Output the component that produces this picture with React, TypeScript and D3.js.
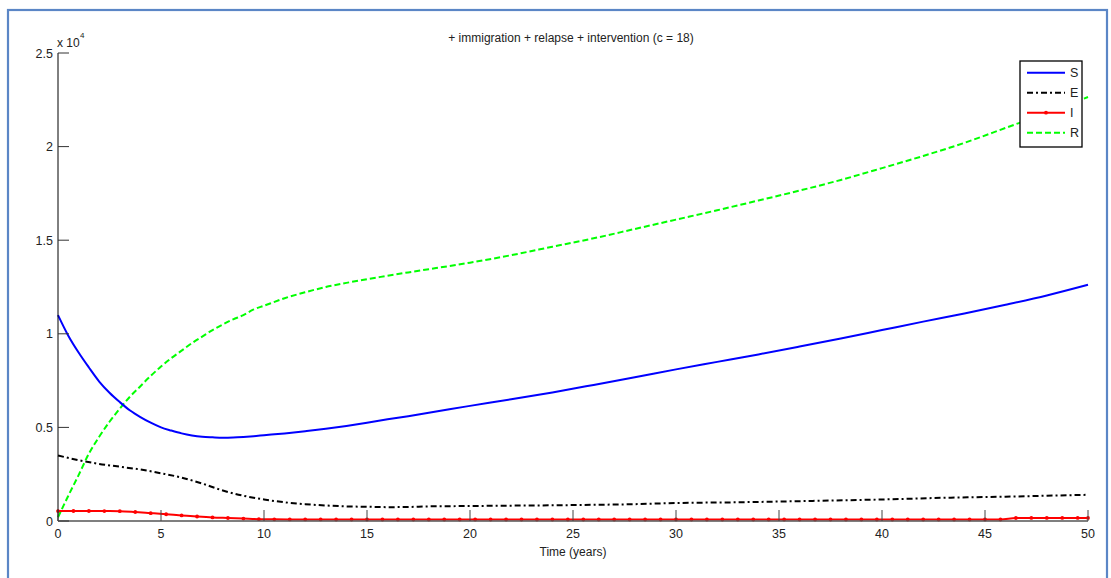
import React from "react";
import * as d3 from "d3";

// ---- data (population counts) ----
const sTimes = [0,0.5,1,1.5,2,2.5,3,3.5,4,4.5,5,5.5,6,6.5,7,7.5,8,8.5,9,9.5,10,11,12,13,14,15,16,17,18,19,20,22,24,26,28,30,32,34,36,38,40,42,44,46,48,50];
const sValues = [11000,9900,9000,8200,7450,6850,6350,5900,5550,5250,5000,4830,4680,4570,4500,4470,4450,4460,4490,4530,4580,4680,4800,4930,5080,5250,5430,5600,5780,5970,6150,6500,6870,7270,7680,8100,8500,8900,9320,9750,10200,10650,11080,11550,12050,12620];

const rTimes = [0,0.5,1,1.5,2,2.5,3,3.5,4,4.5,5,5.5,6,6.5,7,7.5,8,8.5,9,9.5,10,11,12,13,14,15,16,17,18,19,20,22,24,26,28,30,32,34,36,38,40,42,44,46,48,50];
const rValues = [200,1350,2450,3600,4500,5300,6000,6650,7200,7750,8250,8700,9100,9500,9850,10200,10500,10770,11000,11300,11500,11900,12220,12500,12720,12920,13100,13280,13450,13620,13800,14200,14650,15100,15600,16100,16600,17120,17650,18220,18850,19500,20200,21000,21800,22650];

const eTimes = [0,1,2,3,4,5,6,7,8,9,10,11,12,13,14,15,16,17,18,20,22,25,28,30,33,36,40,43,46,48,50];
const eValues = [3500,3250,3050,2900,2750,2550,2320,2000,1630,1350,1150,1000,900,830,780,760,740,750,780,800,820,850,900,960,1000,1060,1150,1240,1300,1350,1400];

const iStep = 0.75;
const iValues = [530,535,535,530,525,480,420,360,300,240,190,160,130,100,90,
  85,85,85,80,80,80,80,80,80,80,80,80,80,80,80,80,80,80,80,80,80,80,80,80,80,80,80,80,80,80,80,80,80,80,80,80,80,80,80,80,80,80,80,80,80,80,80,
  160,165,165,165,165,165];
const iTimes = iValues.map((_, k) => Math.min(50, k * iStep));

const xTicks = [0,5,10,15,20,25,30,35,40,45,50];
const yTicks = [0,5000,10000,15000,20000,25000];
const yTickLabels = ["0","0.5","1","1.5","2","2.5"];

const title = "+ immigration + relapse + intervention (c = 18)";
const xLabel = "Time (years)";

const legendItems = [
  { key: "S", color: "#0000ff", dash: "none", marker: false },
  { key: "E", color: "#000000", dash: "6,3,2,3", marker: false },
  { key: "I", color: "#ff0000", dash: "none", marker: true },
  { key: "R", color: "#00ff00", dash: "6,3", marker: false },
];

export default function App() {
  const W = 1111, H = 578;
  const x = d3.scaleLinear().domain([0, 50]).range([58, 1088]);
  const y = d3.scaleLinear().domain([0, 25000]).range([521, 53]);
  const line = (ts: number[], vs: number[]) =>
    d3.line<number>().x((_, k) => x(ts[k])).y((v) => y(v)).curve(d3.curveMonotoneX)(vs) || "";

  const font = "'Liberation Sans', Arial, sans-serif";
  const lx = 1020, ly = 61, lw = 62, lh = 86;

  return (
    <svg width={W} height={H} style={{ position: "absolute", left: 0, top: 0, background: "#fff" }} fontFamily={font}>
      <rect x={0} y={0} width={W} height={H} fill="#fff" />
      <rect x={8} y={10} width={1099} height={700} fill="none" stroke="#5b86c6" strokeWidth={2.2} />

      {/* series */}
      <path d={line(eTimes, eValues)} fill="none" stroke="#000" strokeWidth={2} strokeDasharray="6,3,2,3" />
      <path d={line(rTimes, rValues)} fill="none" stroke="#00ff00" strokeWidth={2} strokeDasharray="6,3" />
      <path d={line(sTimes, sValues)} fill="none" stroke="#0000ff" strokeWidth={2} />
      <path d={line(iTimes, iValues)} fill="none" stroke="#ff0000" strokeWidth={2} />
      {iValues.map((v, k) => (
        <circle key={k} cx={x(iTimes[k])} cy={y(v)} r={1.9} fill="#ff0000" />
      ))}

      {/* axes */}
      <line x1={58} x2={58} y1={y(25000)} y2={521} stroke="#000" strokeWidth={1} />
      <line x1={58} x2={1088} y1={521} y2={521} stroke="#555" strokeWidth={1.5} />
      {yTicks.map((t, k) => (
        <g key={"y" + t}>
          <line x1={58} x2={69} y1={y(t)} y2={y(t)} stroke="#333" strokeWidth={1} />
          <text x={53} y={y(t) + 4.5} textAnchor="end" fontSize={12.5} fill="#222">{yTickLabels[k]}</text>
        </g>
      ))}
      {xTicks.map((t) => (
        <g key={"x" + t}>
          <line x1={x(t)} x2={x(t)} y1={521} y2={510} stroke="#444" strokeWidth={1} />
          <text x={x(t)} y={538} textAnchor="middle" fontSize={12.5} fill="#222">{t}</text>
        </g>
      ))}
      <text x={57} y={47} fontSize={12} fill="#222">x 10</text>
      <text x={80} y={38} fontSize={8} fill="#222">4</text>

      <text x={571} y={42} textAnchor="middle" fontSize={12} fill="#222">{title}</text>
      <text x={573} y={556} textAnchor="middle" fontSize={12} fill="#222">{xLabel}</text>

      {/* legend */}
      <rect x={lx} y={ly} width={lw} height={lh} fill="#fff" stroke="#000" strokeWidth={1.3} />
      {legendItems.map((it, k) => {
        const yy = 72.7 + k * 20;
        return (
          <g key={it.key}>
            <line x1={1027} x2={1065} y1={yy} y2={yy} stroke={it.color} strokeWidth={2}
              strokeDasharray={it.dash === "none" ? undefined : it.dash} />
            {it.marker && <circle cx={1046} cy={yy} r={1.9} fill={it.color} />}
            <text x={1070} y={yy + 4.5} fontSize={12.5} fill="#222">{it.key}</text>
          </g>
        );
      })}
    </svg>
  );
}
